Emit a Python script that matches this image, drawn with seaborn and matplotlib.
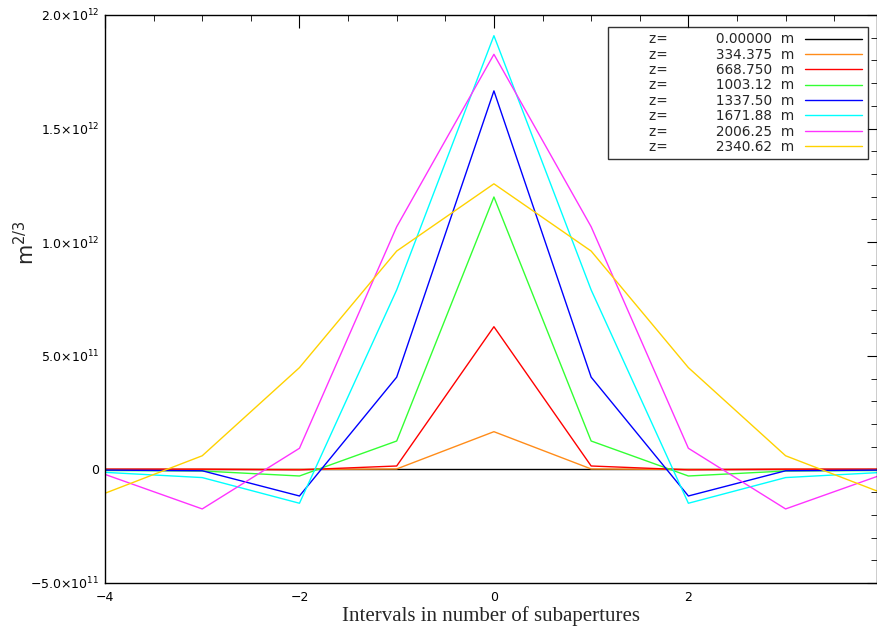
import numpy as np
import pandas as pd
import matplotlib
matplotlib.use("Agg")
import matplotlib.pyplot as plt
from matplotlib.ticker import FixedLocator, MultipleLocator, FuncFormatter
import seaborn as sns

#%% data (values in units of 1e12 m^2/3)

intervals = [-4, -3, -2, -1, 0, 1, 2, 3, 4]
heights = ["0.00000", "334.375", "668.750", "1003.12",
           "1337.50", "1671.88", "2006.25", "2340.62"]

z0000 = [0.0, 0.0, 0.0, 0.0, 0.0, 0.0, 0.0, 0.0, 0.0]
z0334 = [0.0, 0.0, 0.0, 0.002, 0.166, 0.002, 0.0, 0.0, 0.0]
z0669 = [0.001, 0.001, -0.002, 0.015, 0.628, 0.015, -0.002, 0.001, 0.001]
z1003 = [-0.005, -0.007, -0.029, 0.125, 1.199, 0.125, -0.029, -0.007, -0.005]
z1338 = [-0.003, -0.006, -0.117, 0.406, 1.666, 0.406, -0.117, -0.006, -0.003]
z1672 = [-0.013, -0.036, -0.149, 0.790, 1.909, 0.790, -0.149, -0.036, -0.013]
z2006 = [-0.022, -0.174, 0.093, 1.068, 1.827, 1.068, 0.093, -0.174, -0.022]
z2341 = [-0.105, 0.060, 0.448, 0.961, 1.257, 0.961, 0.448, 0.060, -0.105]

series = [z0000, z0334, z0669, z1003, z1338, z1672, z2006, z2341]
colours = ["#000000", "#ff8c1a", "#ff0000", "#33ff33",
           "#0000ff", "#00ffff", "#ff33ff", "#ffd200"]

#%% long form table for seaborn

labels = ["        z=           " + h + "  m" for h in heights]
rows = []
for lab, vals in zip(labels, series):
    for x, v in zip(intervals, vals):
        rows.append({"x": x, "val": v * 1e12, "z": lab})
df = pd.DataFrame(rows)

#%% plot

sns.set_style("white")
plt.rcParams['font.family'] = ['DejaVu Sans']
plt.rcParams['mathtext.fontset'] = 'dejavusans'

fig = plt.figure(figsize=(8.77, 6.27), dpi=100)
ax = fig.add_axes([105 / 877, 1 - 583 / 627, 772 / 877, 568 / 627])

sns.lineplot(data=df, x="x", y="val", hue="z", hue_order=labels,
             palette=colours, linewidth=1.0, ax=ax, legend=True)

ax.set_xlim(-4, 3.94)
ax.set_ylim(-5e11, 2e12)

ax.xaxis.set_major_locator(FixedLocator([-4, -2, 0, 2]))
ax.xaxis.set_minor_locator(MultipleLocator(0.5))
ax.yaxis.set_major_locator(MultipleLocator(5e11))
ax.yaxis.set_minor_locator(MultipleLocator(1e11))


def sci_fmt(v, pos):
    if abs(v) < 1:
        return "0"
    exp = int(np.floor(np.log10(abs(v))))
    mant = v / 10 ** exp
    sign = "\u2212" if mant < 0 else ""
    return sign + "%.1f\u00d710$^{%d}$" % (abs(mant), exp)


ax.yaxis.set_major_formatter(FuncFormatter(sci_fmt))
ax.xaxis.set_major_formatter(FuncFormatter(
    lambda v, p: ("\u2212%d" % abs(v)) if v < 0 else "%d" % v))

ax.tick_params(which="both", direction="in", top=True, right=True,
               colors="black", labelsize=9)
ax.tick_params(axis="x", which="major", length=9, pad=6)
ax.tick_params(axis="x", which="minor", length=4.5)
ax.tick_params(axis="y", which="major", length=7.5, pad=4)
ax.tick_params(axis="y", which="minor", length=4)

for s in ax.spines.values():
    s.set_color("black")
    s.set_linewidth(1.0)

ax.set_xlabel("Intervals in number of subapertures",
              family="Liberation Serif", fontsize=15, labelpad=1)
ax.set_ylabel("m$^{2/3}$", fontsize=15)
ax.yaxis.set_label_coords(-0.086, 0.60)

handles, labs = ax.get_legend_handles_labels()
leg = ax.legend(handles, labs, loc="upper right",
                bbox_to_anchor=(0.988, 0.979), borderaxespad=0,
                markerfirst=False, fancybox=False, frameon=True,
                fontsize=9.8, handlelength=4.2, handletextpad=0.8,
                labelspacing=0.1, borderpad=0.4, title=None)
leg.get_frame().set_edgecolor("black")
leg.get_frame().set_linewidth(1.0)

fig.savefig("out.png", dpi=100)
